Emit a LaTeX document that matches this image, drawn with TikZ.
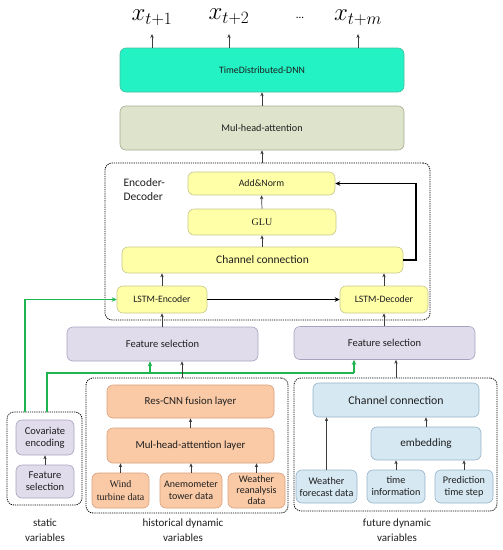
\documentclass[tikz,border=0pt]{standalone}
\usepackage{fontspec}
\setmainfont{Carlito}
\newfontfamily\serifname{Liberation Serif}
\usetikzlibrary{arrows.meta}
\definecolor{dnnfill}{RGB}{34,242,196}
\definecolor{dnndraw}{RGB}{70,190,160}
\definecolor{mhafill}{RGB}{222,228,204}
\definecolor{mhadraw}{RGB}{165,172,140}
\definecolor{yfill}{RGB}{255,255,168}
\definecolor{ydraw}{RGB}{200,200,140}
\definecolor{pfill}{RGB}{224,220,236}
\definecolor{pdraw}{RGB}{168,162,190}
\definecolor{ofill}{RGB}{250,202,166}
\definecolor{odraw}{RGB}{215,160,122}
\definecolor{bfill}{RGB}{214,233,243}
\definecolor{bdraw}{RGB}{150,178,198}
\definecolor{gline}{RGB}{30,180,80}
\definecolor{txt}{RGB}{30,30,30}
\definecolor{arrc}{RGB}{60,60,60}
\tikzset{
  box/.style={rounded corners=6pt, inner sep=0pt, align=center, text=txt, line width=0.6pt},
  dnnbox/.style={box, fill=dnnfill, draw=dnndraw, font=\fontsize{9.8}{10}\selectfont},
  mhabox/.style={box, fill=mhafill, draw=mhadraw, font=\fontsize{10.2}{11}\selectfont},
  ybox/.style={box, fill=yfill, draw=ydraw, font=\fontsize{9.8}{10}\selectfont},
  pbox/.style={box, fill=pfill, draw=pdraw, font=\fontsize{10.5}{12}\selectfont},
  obox/.style={box, fill=ofill, draw=odraw, font=\fontsize{10}{12}\selectfont},
  bbox/.style={box, fill=bfill, draw=bdraw, font=\fontsize{10.2}{12}\selectfont},
  dbox/.style={draw=black, rounded corners=7pt, line width=0.8pt, dash pattern=on 1.2pt off 1pt, inner sep=0pt},
  arr/.style={draw=arrc, line width=0.7pt, -{Stealth[length=4pt,width=3.4pt]}},
  thick arr/.style={draw=black, line width=1.4pt, -{Stealth[length=5pt,width=4.5pt]}},
  garr/.style={draw=gline, line width=1.4pt, -{Stealth[length=5pt,width=4.5pt]}},
  gline/.style={draw=gline, line width=1.4pt},
  lbl/.style={align=center, text=txt, font=\fontsize{11}{15}\selectfont},
  outlbl/.style={inner sep=1pt, font=\fontsize{25}{25}\selectfont},
}
\begin{document}
\begin{tikzpicture}[x=1pt,y=-1pt]
\useasboundingbox (0,0) rectangle (503,550);
% outputs
\node[outlbl] (x1) at (152,18) {$x_{t+1}$};
\node[outlbl] (x2) at (229,17) {$x_{t+2}$};
\node (xd) at (300,18) {\fontsize{11}{11}\selectfont ...};
\node[outlbl] (xm) at (358,18) {$x_{t+m}$};
% top boxes
\node[dnnbox, minimum width=284pt, minimum height=44pt] (dnn) at (262,70) {TimeDistributed-DNN};
\node[mhabox, minimum width=284pt, minimum height=44pt] (mha) at (262,128) {Mul-head-attention};
% encoder-decoder
\node[dbox, minimum width=325pt, minimum height=157pt] (encdec) at (267.5,241.5) {};
\node[anchor=west, align=left, text=txt, font=\fontsize{11.5}{14}\selectfont] (edl) at (120,190) {Encoder-\\Decoder};
\node[ybox, minimum width=147pt, minimum height=23pt] (add) at (261.5,183.5) {Add\&Norm};
\node[ybox, minimum width=148pt, minimum height=26pt, font=\serifname\fontsize{10}{10}\selectfont] (glu) at (262,222) {GLU};
\node[ybox, minimum width=281pt, minimum height=26pt, font=\fontsize{11.5}{12}\selectfont] (chan) at (262.5,260) {Channel connection};
\node[ybox, minimum width=90pt, minimum height=27pt] (enc) at (162,299.5) {LSTM-Encoder};
\node[ybox, minimum width=88pt, minimum height=27pt] (dec) at (384,299.5) {LSTM-Decoder};
% feature selection
\node[pbox, minimum width=191pt, minimum height=34pt] (fsl) at (162.5,344) {Feature selection};
\node[pbox, minimum width=181pt, minimum height=33pt] (fsr) at (384.5,343) {Feature selection};
% static
\node[dbox, minimum width=75pt, minimum height=93pt] (statbox) at (44.5,458.5) {};
\node[pbox, minimum width=58pt, minimum height=35pt] (cov) at (45,437.5) {Covariate\\encoding};
\node[pbox, minimum width=58pt, minimum height=33pt] (fss) at (45,481.5) {Feature\\selection};
\node[lbl] (statl) at (45,530) {static\\variables};
% historical
\node[dbox, minimum width=202pt, minimum height=135pt] (histbox) at (187,445.5) {};
\node[obox, minimum width=167pt, minimum height=33pt, font=\fontsize{10.8}{12}\selectfont] (res) at (190.5,401.5) {Res-CNN fusion layer};
\node[obox, minimum width=167pt, minimum height=35pt, font=\fontsize{10.8}{12}\selectfont] (mhl) at (190.5,445.5) {Mul-head-attention layer};
\node[obox, minimum width=57pt, minimum height=35pt, font=\serifname\fontsize{10}{12.5}\selectfont] (wind) at (120.5,490.5) {Wind\\turbine data};
\node[obox, minimum width=62pt, minimum height=35pt] (anem) at (191,490.5) {Anemometer\\tower data};
\node[obox, minimum width=57pt, minimum height=35pt, font=\fontsize{10}{11}\selectfont] (wrea) at (256.5,490.5) {Weather\\reanalysis\\data};
\node[lbl] (histl) at (183,530) {historical dynamic\\variables};
% future
\node[dbox, minimum width=203pt, minimum height=133pt] (futbox) at (395.5,444.5) {};
\node[bbox, minimum width=166pt, minimum height=34pt, font=\fontsize{11.8}{12}\selectfont] (fcc) at (396,400) {Channel connection};
\node[bbox, minimum width=110pt, minimum height=33pt, font=\fontsize{11.2}{12}\selectfont] (emb) at (426,443.5) {embedding};
\node[bbox, minimum width=61pt, minimum height=33pt] (wfc) at (326.5,486.5) {Weather\\forecast data};
\node[bbox, minimum width=58pt, minimum height=33pt] (tinf) at (396,486.5) {time\\information};
\node[bbox, minimum width=58pt, minimum height=33pt] (pts) at (464,486.5) {Prediction\\time step};
\node[lbl] (futl) at (397,530) {future dynamic\\variables};
% helper coordinates
\coordinate (xa) at (182,0);
\coordinate (g1) at (25,412);
\coordinate (g2) at (47,412);
\coordinate (g3) at (354,373);
\coordinate (g4) at (150,373);
\coordinate (rt) at (416,0);
\coordinate (xt) at (0,34);
% arrows top
\draw[arr] (dnn.north -| x1) -- (x1 |- xt);
\draw[arr] (dnn.north -| x2) -- (x2 |- xt);
\draw[arr] (dnn.north -| xm) -- (xm |- xt);
\draw[arr] (mha.north) -- (dnn.south);
\draw[arr] (encdec.north -| mha.south) -- (mha.south);
\draw[arr] (glu.north) -- (add.south);
\draw[arr] (chan.north -| glu.south) -- (glu.south);
\draw[arr] (enc.north) -- (enc.north |- chan.south);
\draw[arr] (dec.north) -- (dec.north |- chan.south);
\draw[thick arr] (enc.east) -- (dec.west);
\draw[thick arr] (chan.east) -- (chan.east -| rt) -- (add.east -| rt) -- (add.east);
\draw[arr] (fsl.north -| enc.south) -- (enc.south);
\draw[arr] (fsr.north -| dec.south) -- (dec.south);
% green
\draw[garr] (g1) |- (enc.west);
\draw[gline] (g2) |- (g3);
\draw[garr] (g3) -- (g3 |- fsr.south);
\draw[garr] (g4) -- (g4 |- fsl.south);
% historical arrows
\draw[arr] (histbox.north -| xa) -- (fsl.south -| xa);
\draw[arr] (mhl.north) -- (res.south);
\draw[arr] (wind.north) -- (wind.north |- mhl.south);
\draw[arr] (anem.north) -- (anem.north |- mhl.south);
\draw[arr] (wrea.north) -- (wrea.north |- mhl.south);
% static
\draw[arr] (fss.north) -- (cov.south);
% future arrows
\draw[arr] (futbox.north -| fcc.north) -- (fcc.north |- fsr.south);
\draw[arr] (wfc.north) -- (wfc.north |- fcc.south);
\draw[arr] (tinf.north) -- (tinf.north |- emb.south);
\draw[arr] (pts.north) -- (pts.north |- emb.south);
\draw[arr] (emb.north) -- (emb.north |- fcc.south);
\end{tikzpicture}
\end{document}
